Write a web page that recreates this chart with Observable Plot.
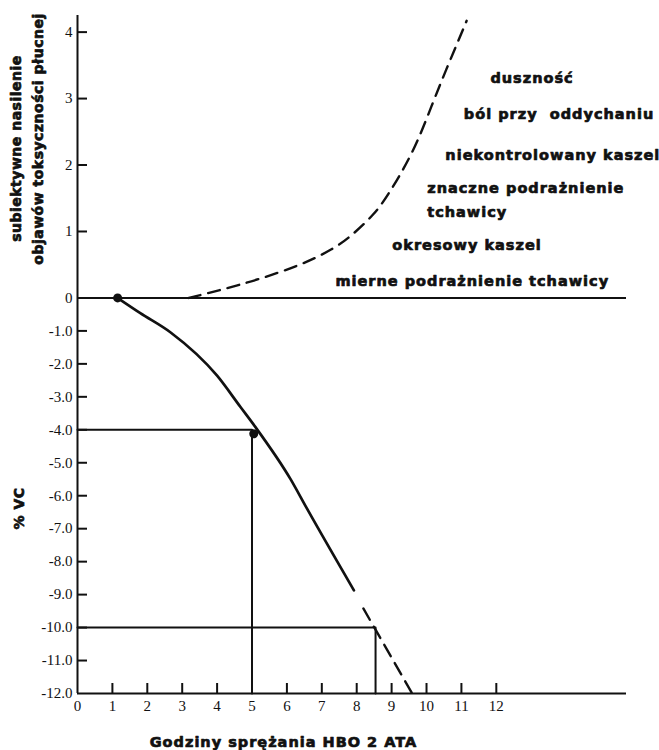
<!DOCTYPE html>
<html>
<head>
<meta charset="utf-8">
<script src="https://cdn.jsdelivr.net/npm/d3@7"></script>
<script src="https://cdn.jsdelivr.net/npm/@observablehq/plot@0.6"></script>
<style>
  body { margin: 0; background: #fff; }
  svg text { white-space: pre; }
</style>
</head>
<body>
<div id="chart"></div>
<script>
// ---- data ----
const xTicks = [0, 1, 2, 3, 4, 5, 6, 7, 8, 9, 10, 11, 12];
const yTicks = [4, 3, 2, 1, 0, -1, -2, -3, -4, -5, -6, -7, -8, -9, -10, -11, -12];

// % VC decline (solid part)
const vcHours  = [1.15, 1.80, 2.66, 4.00, 4.67, 5.10, 6.10, 6.58, 7.92];
const vcChange = [0, -0.46, -1.04, -2.36, -3.31, -3.92, -5.49, -6.40, -8.87];
// % VC decline (dashed extrapolation)
const vcExtHours  = [8.19, 9.59];
const vcExtChange = [-9.42, -12];
// marked points
const dotHours  = [1.15, 5.05];
const dotChange = [0, -4.12];
// reference brackets
const refHours = [5, 8.54];
const refVC    = [-4, -10];

// subjective symptom severity (dashed)
const symHours = [3.19, 4.10, 5.15, 6.48, 7.34, 7.82, 8.49, 8.87, 9.64, 10.15, 10.59, 10.88, 11.15];
const symLevel = [0, 0.12, 0.27, 0.51, 0.74, 0.92, 1.25, 1.52, 2.20, 2.90, 3.47, 3.83, 4.17];

// symptom labels
const symptoms = ["duszność", "ból przy  oddychaniu", "niekontrolowany kaszel",
                  "znaczne podrażnienie\ntchawicy", "okresowy kaszel", "mierne podrażnienie tchawicy"];
const symptomHours  = [11.83, 11.07, 10.54, 10.02, 9.02, 7.39];
const symptomLevels = [3.35, 2.80, 2.19, 1.515, 0.84, 0.29];

const xTitle = "Godziny sprężania HBO 2 ATA";
const yTitleTop = ["subiektywne nasilenie", "objawów toksyczności płucnej"];
const yTitleBottom = "% VC";

// ---- the upper (symptom) half of the y axis is drawn at a larger scale ----
const K = 66.45 / 32.96;
const yPos = d => d > 0 ? d * K : d;
const yTop = 4.25;

// ---- build tables ----
const vc = vcHours.map((h, i) => ({h, v: vcChange[i]}));
const vcExt = vcExtHours.map((h, i) => ({h, v: vcExtChange[i]}));
const dots = dotHours.map((h, i) => ({h, v: dotChange[i]}));
const sym = symHours.map((h, i) => ({h, v: symLevel[i]}));
const labels = symptoms.map((t, i) => ({t, h: symptomHours[i], v: symptomLevels[i]}));
const brackets = refHours.flatMap((h, i) => [
  {g: i, h: 0, v: refVC[i]}, {g: i, h, v: refVC[i]}, {g: i, h, v: -12}
]);

const heavy = "'DejaVu Sans', Verdana, sans-serif";
const ink = "#111";
const fmt = p => p > 0 ? String(Math.round(p / K)) : p === 0 ? "0" : p.toFixed(1);
const Y = d => yPos(d.v);
const titleStyle = {fontFamily: heavy, fontWeight: "bold", fontSize: 14, fill: ink, stroke: ink, strokeWidth: 0.7, textAnchor: "middle"};

const chart = Plot.plot({
  width: 659,
  height: 750,
  marginLeft: 77,
  marginRight: 33,
  marginTop: 15,
  marginBottom: 57,
  style: {fontFamily: "'Liberation Serif', 'Times New Roman', serif", fontSize: "15px", color: ink, background: "#fff"},
  x: {domain: [0, 15.73]},
  y: {domain: [-12, yPos(yTop)]},
  marks: [
    // axes lines
    Plot.ruleX([0], {y1: -12, y2: yPos(yTop), stroke: ink, strokeWidth: 2}),
    Plot.ruleY([-12, 0], {stroke: ink, strokeWidth: 2}),
    // inward ticks
    Plot.axisY({ticks: yTicks.filter(d => d !== 0 && d !== -12).map(yPos), tickSize: 10, dx: 10, fill: "none", strokeWidth: 2, label: null}),
    Plot.axisX({ticks: xTicks.filter(d => d > 0), tickSize: 10, dy: -10, fill: "none", strokeWidth: 2, label: null}),
    // tick labels
    Plot.axisY({ticks: yTicks.map(yPos), tickSize: 0, tickPadding: 5, tickFormat: fmt, label: null, fontSize: 15, stroke: ink, strokeWidth: 0.3}),
    Plot.axisX({ticks: xTicks, tickSize: 0, tickPadding: 7, tickFormat: d => String(d), label: null, fontSize: 15, stroke: ink, strokeWidth: 0.3}),
    // reference brackets
    Plot.line(brackets, {x: "h", y: Y, z: "g", stroke: ink, strokeWidth: 2}),
    // VC curve
    Plot.line(vc, {x: "h", y: Y, stroke: ink, strokeWidth: 2.7, curve: "monotone-x"}),
    Plot.line(vcExt, {x: "h", y: Y, stroke: ink, strokeWidth: 2.4, strokeDasharray: "13,8"}),
    Plot.dot(dots, {x: "h", y: Y, r: 4.5, fill: ink}),
    // symptom curve
    Plot.line(sym, {x: "h", y: Y, stroke: ink, strokeWidth: 2.4, strokeDasharray: "12,8", curve: "basis"}),
    // symptom labels
    Plot.text(labels, {x: "h", y: Y, text: "t", lineHeight: 1.62, ...titleStyle, fontSize: 14.5, textAnchor: "start"}),
    // titles
    Plot.text([yTitleTop[0]], {frameAnchor: "top-left", dx: -66, dy: 133, rotate: -90, text: d => d, ...titleStyle}),
    Plot.text([yTitleTop[1]], {frameAnchor: "top-left", dx: -44, dy: 123.5, rotate: -90, text: d => d, ...titleStyle}),
    Plot.text([yTitleBottom], {frameAnchor: "top-left", dx: -63, dy: 493, rotate: -90, text: d => d, ...titleStyle}),
    Plot.text([xTitle], {frameAnchor: "top-left", dx: 206, dy: 721, text: d => d, ...titleStyle, fontSize: 14.5})
  ]
});

// letter spacing to mimic the wide heavy typeface of the original
const textGroups = d3.select(chart).selectAll('g[aria-label="text"]').nodes();
const spacing = ["1px", "0.5px", "0.5px", "0.5px", "1px"];
textGroups.forEach((g, i) => g.style.letterSpacing = spacing[i] || "0px");

document.getElementById("chart").append(chart);
</script>
</body>
</html>
